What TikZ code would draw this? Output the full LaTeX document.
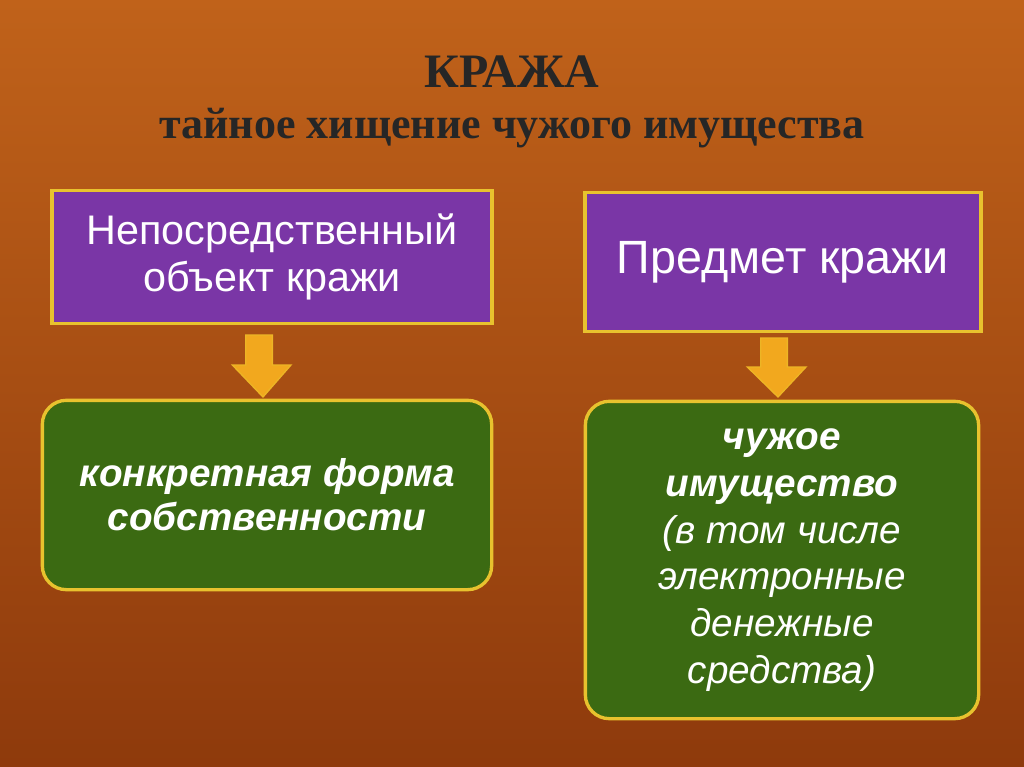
\documentclass[tikz,border=0pt]{standalone}
\usepackage{fontspec}
\setmainfont{Liberation Serif}
\newfontfamily\boxfont{Liberation Sans}
\definecolor{bgA}{HTML}{C0621A}
\definecolor{bgB}{HTML}{8E3A0C}
\definecolor{purp}{HTML}{7A36A6}
\definecolor{grn}{HTML}{3B6A12}
\definecolor{gold}{HTML}{E8C22E}
\definecolor{arr}{HTML}{F2A81E}
\tikzset{
 pbox/.style={draw=gold,line width=2.5pt,fill=purp,text=white,align=center,font=\boxfont\fontsize{31}{35}\selectfont},
 gbox/.style={draw=gold,line width=2.5pt,fill=grn,rounded corners=18pt,text=white,align=center,font=\boxfont\bfseries\itshape\fontsize{29}{33}\selectfont},
 darrow/.style={draw=gold!80!orange,line width=1pt,fill=arr}
}
\begin{document}
\begin{tikzpicture}[x=0.75pt,y=-0.75pt]
\useasboundingbox (0,0) rectangle (1024,767);
\shade[top color=bgA,bottom color=bgB] (0,0) rectangle (1024,767);
\node (t1) at (512,72) {\fontsize{36}{40}\bfseries\selectfont\color{black!85}КРАЖА};
\node (t2) at (512,128) {\fontsize{33}{38}\bfseries\selectfont\color{black!85}тайное хищение чужого имущества};
\node[pbox,minimum width=330pt,minimum height=100pt] (p1) at (272,257) {Непосредственный\\объект кражи};
\node[pbox,minimum width=297pt,minimum height=104pt,font=\boxfont\fontsize{35}{40}\selectfont] (p2) at (783,262) {Предмет кражи};
\node[gbox,minimum width=337pt,minimum height=142pt] (g1) at (267,495) {конкретная форма\\собственности};
\node[gbox,minimum width=295pt,minimum height=238pt,font=\boxfont\bfseries\itshape\fontsize{29}{35}\selectfont] (g2) at (782,560) {чужое\\имущество\\{\mdseries(в том числе}\\{\mdseries электронные}\\{\mdseries денежные}\\{\mdseries средства)}};
\coordinate (c1) at (263,0);
\coordinate (c2) at (778,0);
\draw[darrow] ([xshift=-13pt]c1 |- 0,335) -- ([xshift=7pt]c1 |- 0,335) -- ([xshift=7pt]c1 |- 0,365) -- ([xshift=21pt]c1 |- 0,365) -- (c1 |- 0,397) -- ([xshift=-23pt]c1 |- 0,365) -- ([xshift=-13pt]c1 |- 0,365) -- cycle;
\draw[darrow] ([xshift=-13pt]c2 |- 0,338) -- ([xshift=7pt]c2 |- 0,338) -- ([xshift=7pt]c2 |- 0,367) -- ([xshift=21pt]c2 |- 0,367) -- (c2 |- 0,397) -- ([xshift=-23pt]c2 |- 0,367) -- ([xshift=-13pt]c2 |- 0,367) -- cycle;
\end{tikzpicture}
\end{document}
